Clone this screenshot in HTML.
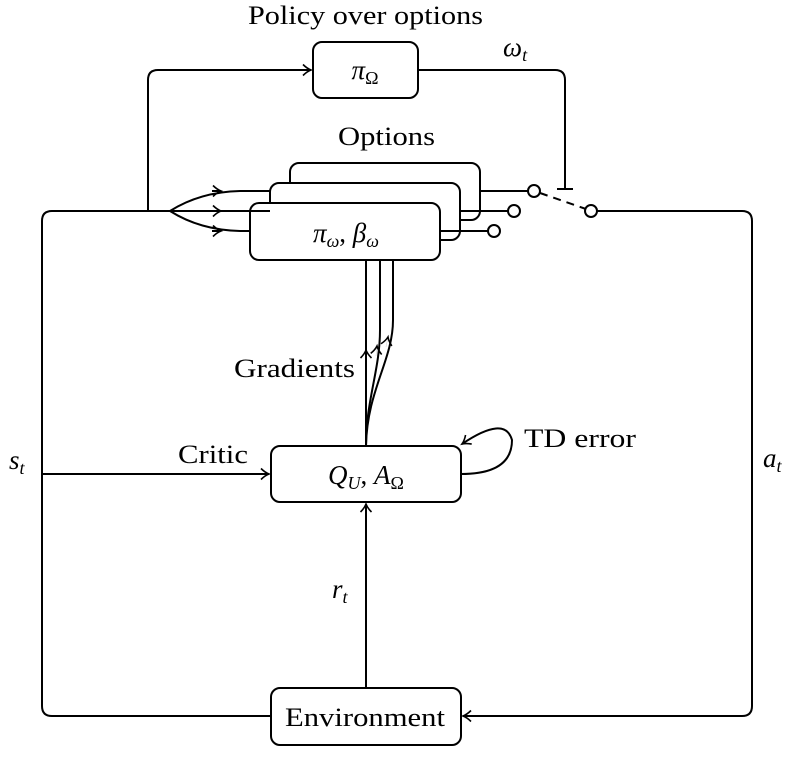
<!DOCTYPE html>
<html><head><meta charset="utf-8"><style>
html,body{margin:0;padding:0;background:#fff;}
svg text{font-family:"Liberation Serif",serif;fill:#000;}
.i{font-style:italic;}
</style></head><body>
<svg width="796" height="755" viewBox="0 0 796 755" xmlns="http://www.w3.org/2000/svg">
<defs>
<marker id="a" markerWidth="14" markerHeight="14" refX="11" refY="7" orient="auto" markerUnits="userSpaceOnUse">
<path d="M3,1.5 Q7,5.5 11,7 Q7,8.5 3,12.5" fill="none" stroke="#000" stroke-width="1.6"/>
</marker>
</defs>
<g fill="none" stroke="#000" stroke-width="2">
<path d="M148,211 V80 Q148,70 158,70 H311" marker-end="url(#a)"/>
<rect x="313" y="42" width="105" height="56" rx="9" fill="#fff"/>
<path d="M418,70 H555 Q565,70 565,80 V190"/>
<line x1="557" y1="189" x2="573" y2="189"/>
<rect x="290" y="163" width="190" height="57" rx="9" fill="#fff"/>
<rect x="270" y="183" width="190" height="57" rx="9" fill="#fff"/>
<rect x="250" y="203" width="190" height="57" rx="9" fill="#fff"/>
<line x1="480" y1="191" x2="528" y2="191"/>
<line x1="460" y1="211" x2="508" y2="211"/>
<line x1="440" y1="231" x2="488" y2="231"/>
<circle cx="534" cy="191" r="6" fill="#fff"/>
<circle cx="514" cy="211" r="6" fill="#fff"/>
<circle cx="494" cy="231" r="6" fill="#fff"/>
<line x1="540" y1="193" x2="586" y2="209" stroke-dasharray="8,6"/>
<circle cx="591" cy="211" r="6" fill="#fff"/>
<path d="M597,211 H742 Q752,211 752,221 V706 Q752,716 742,716 H463" marker-end="url(#a)"/>
<path d="M271,716 H52 Q42,716 42,706 V221 Q42,211 52,211 H270"/>
<path d="M170,211 Q200,192 240,191 H270"/>
<path d="M170,211 Q200,230 240,231 H250"/>
<path d="M212,191 L221,191" marker-end="url(#a)"/>
<path d="M212,211 L221,211" marker-end="url(#a)"/>
<path d="M212,231 L221,231" marker-end="url(#a)"/>
<line x1="42" y1="474" x2="269" y2="474" marker-end="url(#a)"/>
<rect x="271" y="446" width="190" height="56" rx="9" fill="#fff"/>
<line x1="366" y1="688" x2="366" y2="504" marker-end="url(#a)"/>
<rect x="271" y="688" width="190" height="57" rx="9" fill="#fff"/>
<line x1="366" y1="446" x2="366" y2="260"/>
<path d="M366,446 C366,400 380,370 380,330 V260"/>
<path d="M366,446 C367,390 393,360 393,320 V260"/>
<path d="M366,360 L366,350" marker-end="url(#a)" stroke-width="0.1"/>
<path d="M376,356 L377,346" marker-end="url(#a)" stroke-width="0.1"/>
<path d="M386,347 L388,337" marker-end="url(#a)" stroke-width="0.1"/>
<path d="M461,474 Q512,474 512,440 Q505,415 462,444" marker-end="url(#a)"/>
</g>
<text x="248" y="24" font-size="26" textLength="235" lengthAdjust="spacingAndGlyphs">Policy over options</text>
<text x="365" y="79" font-size="27" text-anchor="middle" class="i">π<tspan font-size="18" font-style="normal" dy="5">Ω</tspan></text>
<text x="503" y="56" font-size="27" class="i">ω<tspan font-size="18" dy="5">t</tspan></text>
<text x="338" y="145" font-size="26" textLength="97" lengthAdjust="spacingAndGlyphs">Options</text>
<text x="346" y="242" font-size="27" text-anchor="middle" class="i">π<tspan font-size="18" dy="5">ω</tspan><tspan dy="-5" font-style="normal">,   </tspan>β<tspan font-size="18" dy="5">ω</tspan></text>
<text x="234" y="377" font-size="26" textLength="121" lengthAdjust="spacingAndGlyphs">Gradients</text>
<text x="178" y="463" font-size="26" textLength="70" lengthAdjust="spacingAndGlyphs">Critic</text>
<text x="366" y="484" font-size="27" text-anchor="middle" class="i">Q<tspan font-size="18" dy="5">U</tspan><tspan dy="-5" font-style="normal">, </tspan>A<tspan font-size="18" font-style="normal" dy="5">Ω</tspan></text>
<text x="524" y="447" font-size="26" textLength="112" lengthAdjust="spacingAndGlyphs">TD error</text>
<text x="9" y="469" font-size="27" class="i">s<tspan font-size="18" dy="5">t</tspan></text>
<text x="763" y="467" font-size="27" class="i">a<tspan font-size="18" dy="5">t</tspan></text>
<text x="332" y="598" font-size="27" class="i">r<tspan font-size="18" dy="5">t</tspan></text>
<text x="285" y="726" font-size="26" textLength="160" lengthAdjust="spacingAndGlyphs">Environment</text>
</svg>
</body></html>
